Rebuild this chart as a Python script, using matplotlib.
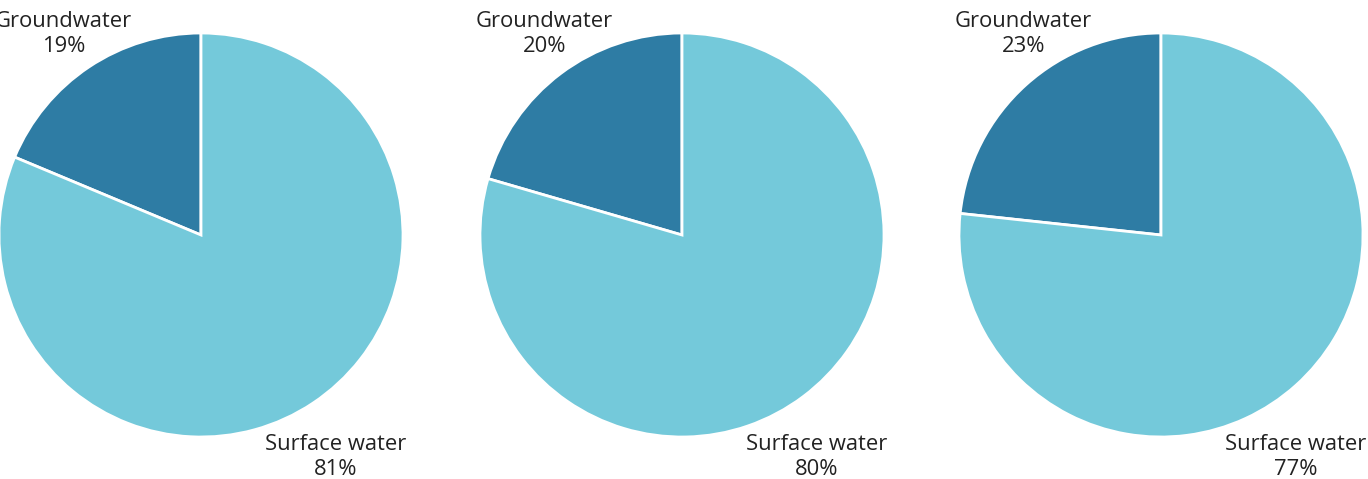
import matplotlib
matplotlib.use("Agg")
import matplotlib.pyplot as plt

plt.rcParams['font.family'] = ['Open Sans', 'DejaVu Sans']

categories = ["Groundwater", "Surface water"]
groundwater = [18.7, 20.5, 23.3]
surface = [81.3, 79.5, 76.7]
groundwater_labels = ["19%", "20%", "23%"]
surface_labels = ["81%", "80%", "77%"]
colors = ["#2E7CA4", "#74C9DA"]

W, H = 1368, 479
fig = plt.figure(figsize=(W / 100, H / 100), dpi=100)

centers_x = [201, 682, 1161]
cy = 235
r = 202

for i, cx in enumerate(centers_x):
    ax = fig.add_axes([(cx - r) / W, (H - cy - r) / H, 2 * r / W, 2 * r / H])
    vals = [groundwater[i], surface[i]]
    ax.pie(vals, colors=colors, startangle=90, counterclock=True, radius=1,
           wedgeprops=dict(edgecolor="white", linewidth=2))
    ax.set_xlim(-1, 1)
    ax.set_ylim(-1, 1)
    ax.set_aspect("equal")
    ax.axis("off")
    ax.text(-0.68, 0.995, f"{categories[0]}\n{groundwater_labels[i]}", ha="center", va="center",
            fontsize=15.8, color="#222222", linespacing=1.25, clip_on=False)
    ax.text(0.665, -1.1, f"{categories[1]}\n{surface_labels[i]}", ha="center", va="center",
            fontsize=15.8, color="#222222", linespacing=1.25, clip_on=False)

fig.savefig("out.png", dpi=100, facecolor="white")
